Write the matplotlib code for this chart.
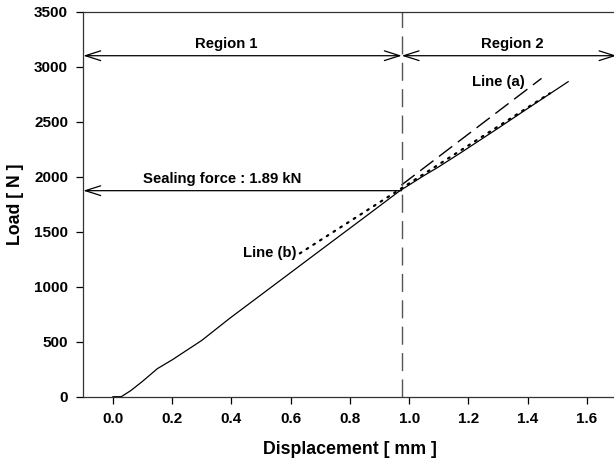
import matplotlib
matplotlib.use("Agg")
import matplotlib.pyplot as plt

plt.rcParams['font.family'] = ['Liberation Sans', 'DejaVu Sans']
plt.rcParams['font.weight'] = 'bold'

# Measured load-displacement curve
disp = [0.0, 0.028, 0.06, 0.10, 0.15, 0.20, 0.30, 0.394, 0.50, 0.60, 0.698, 0.845,
        0.969, 1.00, 1.05, 1.10, 1.171, 1.30, 1.40, 1.537]
load = [0, 0, 55, 140, 255, 335, 512, 712, 926, 1128, 1326, 1622,
        1873, 1925, 2010, 2090, 2212, 2440, 2620, 2864]

# Line (a): region-1 fit extension
line_a_x = [0.974, 1.447]
line_a_y = [1924, 2894]
# Line (b): region-2 fit extension
line_b_x = [0.631, 1.475]
line_b_y = [1303, 2758]

boundary_x = 0.975
region_arrow_y = 3100
sealing_force = 1873

xticks = [0.0, 0.2, 0.4, 0.6, 0.8, 1.0, 1.2, 1.4, 1.6]
yticks = [0, 500, 1000, 1500, 2000, 2500, 3000, 3500]

fig = plt.figure(figsize=(6.14, 4.63), dpi=100)
ax = fig.add_axes([0.1357, 0.1432, 0.8683, 0.8315])

ax.plot(disp, load, color='black', lw=0.9)
ax.plot(line_a_x, line_a_y, color='black', lw=1.0, linestyle=(0, (12, 5)))
ax.plot(line_b_x, line_b_y, color='black', lw=1.6, linestyle=(0, (0.8, 2.8)),
        dash_capstyle='round')
ax.axvline(boundary_x, color='#555555', lw=1.0, linestyle=(0, (13, 6)))

ap = dict(lw=0.9, color='black', shrinkA=0, shrinkB=0)
ax.annotate('', xy=(-0.1, region_arrow_y), xytext=(boundary_x, region_arrow_y),
            arrowprops=dict(arrowstyle='<->,head_length=1.1,head_width=0.35', **ap))
ax.annotate('', xy=(boundary_x, region_arrow_y), xytext=(1.7, region_arrow_y),
            arrowprops=dict(arrowstyle='<->,head_length=1.1,head_width=0.35', **ap))
ax.annotate('', xy=(-0.1, sealing_force), xytext=(boundary_x, sealing_force),
            arrowprops=dict(arrowstyle='->,head_length=1.1,head_width=0.35', **ap))

fs = 10.7
ax.text(0.384, 3206, 'Region 1', ha='center', va='center', fontsize=fs, fontweight='bold')
ax.text(1.35, 3206, 'Region 2', ha='center', va='center', fontsize=fs, fontweight='bold')
ax.text(0.37, 1979, 'Sealing force : 1.89 kN', ha='center', va='center', fontsize=fs, fontweight='bold')
ax.text(1.30, 2864, 'Line (a)', ha='center', va='center', fontsize=fs, fontweight='bold')
ax.text(0.62, 1305, 'Line (b)', ha='right', va='center', fontsize=fs, fontweight='bold')

ax.set_xlim(-0.1, 1.7)
ax.set_ylim(0, 3500)
ax.set_xticks(xticks)
ax.set_xticklabels([f'{v:.1f}' for v in xticks])
ax.set_yticks(yticks)
ax.set_yticklabels([str(v) for v in yticks])
ax.tick_params(direction='out', length=5, width=0.9, labelsize=11, pad=6)
for lab in ax.get_xticklabels() + ax.get_yticklabels():
    lab.set_fontweight('bold')

ax.spines['right'].set_visible(False)
for s in ['left', 'bottom', 'top']:
    ax.spines[s].set_linewidth(0.9)
    ax.spines[s].set_color('#333333')

ax.set_xlabel('Displacement [ mm ]', fontsize=12.8, fontweight='bold', labelpad=11)
ax.set_ylabel('Load [ N ]', fontsize=12.8, fontweight='bold', labelpad=7)

fig.savefig('out.png', dpi=100)
